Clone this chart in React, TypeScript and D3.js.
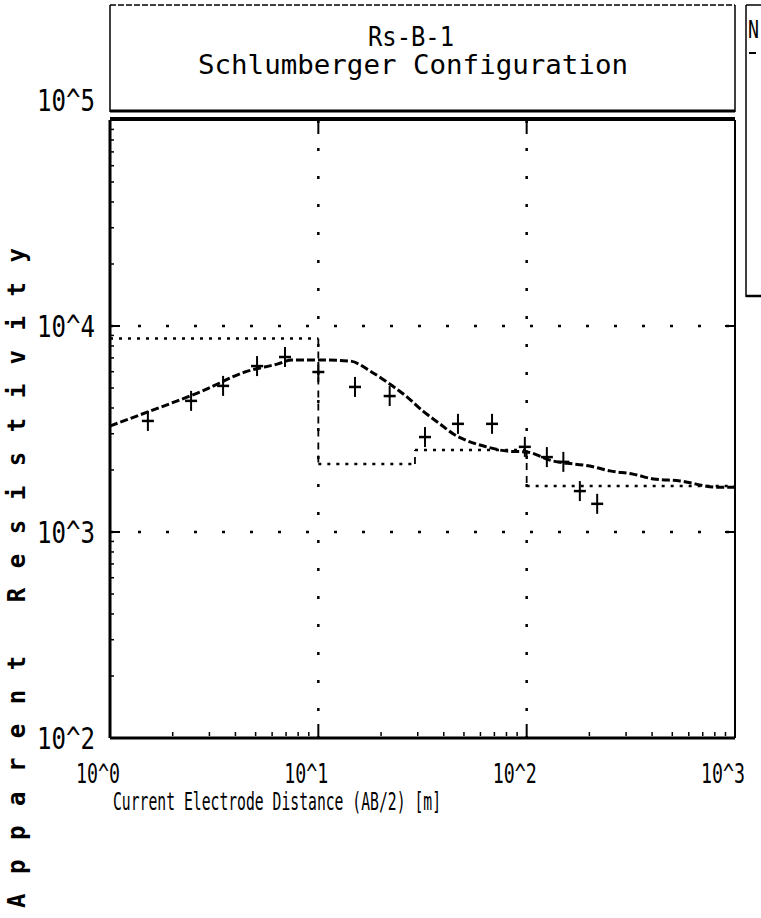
import React from "react";
import * as d3 from "d3";

// Measured apparent resistivity (AB/2 [m], rho_a [ohm-m])
const obsAB = [1.52, 2.45, 3.49, 5.08, 6.92, 10.0, 15.0, 22.0, 32.5, 46.8, 68.2, 98, 125, 150, 180, 218];
const obsRho = [3460, 4330, 5120, 6390, 7070, 5980, 5060, 4570, 2890, 3350, 3350, 2590, 2310, 2190, 1580, 1370];

// Calculated curve
const calcAB = [1, 1.39, 1.98, 2.77, 4.44, 6.4, 7.46, 10.2, 14.2, 17.7, 21.3, 26.7, 31.8, 38.5, 44.5, 51.9, 64.3, 80.6, 100, 134, 167, 201, 251, 324, 406, 545, 813, 1000];
const calcRho = [3270, 3700, 4230, 4830, 5980, 6550, 6840, 6840, 6760, 6050, 5350, 4520, 3860, 3340, 2990, 2770, 2590, 2470, 2445, 2210, 2140, 2090, 1980, 1910, 1810, 1770, 1650, 1650];

// Layered model
const layerRho = [8700, 2140, 2500, 1670];
const layerTop = [1, 10, 29.1, 100];
const layerBottom = [10, 29.1, 100, 1000];

const xTicks = [1, 10, 100, 1000];
const xTickLabels = ["10^0", "10^1", "10^2", "10^3"];
const yTicks = [100, 1000, 10000, 100000];
const yTickLabels = ["10^2", "10^3", "10^4", "10^5"];

const titleLines = ["Rs-B-1", "Schlumberger Configuration"];
const xTitle = "Current Electrode Distance (AB/2) [m]";
const yTitle = "Apparent Resistivity";

const FONT = "'DejaVu Sans Mono', 'Liberation Mono', monospace";

export default function App() {
  const L = 110, R = 735, T = 120, B = 738;
  const x = d3.scaleLog().domain([1, 1000]).range([L, R]);
  const y = d3.scaleLog().domain([100, 100000]).range([B, T]);

  const calcLine = d3
    .line<number>()
    .x((_, i) => x(calcAB[i]))
    .y((d) => y(d))
    .curve(d3.curveMonotoneX)(calcRho) as string;

  let stepH = "";
  let stepV = "";
  layerRho.forEach((r, i) => {
    stepH += `M${x(layerTop[i])},${y(r)}H${x(layerBottom[i])}`;
    if (i > 0) stepV += `M${x(layerTop[i])},${y(layerRho[i - 1])}V${y(r)}`;
  });

  const minor: number[] = [];
  for (let d = 1; d < 1000; d *= 10) for (let k = 2; k <= 9; k++) minor.push(d * k);
  const minorY: number[] = [];
  for (let d = 100; d < 100000; d *= 10) for (let k = 2; k <= 9; k++) minorY.push(d * k);

  const yMax = yTicks[yTicks.length - 1];

  return (
    <svg
      width={761}
      height={918}
      style={{ position: "absolute", left: 0, top: 0, background: "#fff" }}
    >
      <rect x={0} y={0} width={761} height={918} fill="#fff" />
      {/* title box */}
      <line x1={L} x2={R} y1={5} y2={5} stroke="#000" strokeWidth={1.5} strokeDasharray="6 2" />
      <line x1={L} x2={L} y1={5} y2={112} stroke="#000" strokeWidth={1.5} />
      <line x1={R} x2={R} y1={5} y2={112} stroke="#000" strokeWidth={1.5} />
      <line x1={L} x2={R} y1={111} y2={111} stroke="#000" strokeWidth={3} />
      <text x={411} y={46} textAnchor="middle" fontFamily={FONT} fontSize={26} textLength={86} lengthAdjust="spacingAndGlyphs">
        {titleLines[0]}
      </text>
      <text x={413} y={74} textAnchor="middle" fontFamily={FONT} fontSize={26} textLength={430} lengthAdjust="spacingAndGlyphs">
        {titleLines[1]}
      </text>

      {/* legend box (cut off) */}
      <line x1={746} x2={761} y1={5} y2={5} stroke="#000" strokeWidth={1.5} />
      <line x1={746} x2={746} y1={5} y2={297} stroke="#000" strokeWidth={1.5} />
      <line x1={746} x2={761} y1={296} y2={296} stroke="#000" strokeWidth={2.5} />
      <text x={748} y={38} fontFamily={FONT} fontSize={24} textLength={11} lengthAdjust="spacingAndGlyphs">N</text>
      <line x1={749} x2={756} y1={53} y2={53} stroke="#000" strokeWidth={2} />

      {/* plot frame */}
      <line x1={L} x2={R} y1={T - 1} y2={T - 1} stroke="#000" strokeWidth={4} />
      <line x1={L} x2={R} y1={B} y2={B} stroke="#000" strokeWidth={3} />
      <line x1={L} x2={L} y1={T} y2={B} stroke="#000" strokeWidth={3} />
      <line x1={R} x2={R} y1={T} y2={B} stroke="#000" strokeWidth={2} />

      {/* grid */}
      {xTicks.slice(1, -1).map((v) => (
        <line key={"gx" + v} x1={x(v)} x2={x(v)} y1={T} y2={B} stroke="#000" strokeWidth={2.5} strokeDasharray="3 25" />
      ))}
      {yTicks.slice(1, -1).map((v) => (
        <line key={"gy" + v} x1={L} x2={R} y1={y(v)} y2={y(v)} stroke="#000" strokeWidth={2.5} strokeDasharray="3 25" />
      ))}
      {/* major ticks */}
      {xTicks.slice(1, -1).map((v) => (
        <g key={"tx" + v}>
          <line x1={x(v)} x2={x(v)} y1={T} y2={T + 14} stroke="#000" strokeWidth={2} />
          <line x1={x(v)} x2={x(v)} y1={B} y2={B - 14} stroke="#000" strokeWidth={2} />
        </g>
      ))}
      {yTicks.slice(1, -1).map((v) => (
        <g key={"ty" + v}>
          <line x1={L} x2={L + 10} y1={y(v)} y2={y(v)} stroke="#000" strokeWidth={2} />
          <line x1={R} x2={R - 10} y1={y(v)} y2={y(v)} stroke="#000" strokeWidth={2} />
        </g>
      ))}
      {/* minor ticks */}
      {minor.map((v) => (
        <line key={"mx" + v} x1={x(v)} x2={x(v)} y1={B - 2} y2={B - 6} stroke="#000" strokeWidth={1.5} />
      ))}
      {minorY.map((v) => (
        <line key={"my" + v} x1={L} x2={L + 4} y1={y(v)} y2={y(v)} stroke="#000" strokeWidth={1.5} />
      ))}

      {/* tick labels */}
      {yTicks.map((v, i) => (
        <text
          key={"yl" + v}
          x={95}
          y={(v === yMax ? y(v) - 20 : y(v)) + 11}
          textAnchor="end"
          fontFamily={FONT}
          fontSize={30}
          textLength={58}
          lengthAdjust="spacingAndGlyphs"
        >
          {yTickLabels[i]}
        </text>
      ))}
      {xTicks.map((v, i) => (
        <text key={"xl" + v} x={x(v) + 10} y={783} textAnchor="end" fontFamily={FONT} fontSize={27} textLength={44} lengthAdjust="spacingAndGlyphs">
          {xTickLabels[i]}
        </text>
      ))}
      <text x={113} y={810} fontFamily={FONT} fontSize={25} textLength={328} lengthAdjust="spacingAndGlyphs">
        {xTitle}
      </text>
      <text
        transform={`translate(25,908) rotate(-90)`}
        fontFamily={FONT}
        fontSize={24}
        fontWeight="bold"
        textLength={660}
        lengthAdjust="spacing"
      >
        {yTitle}
      </text>

      {/* layered model */}
      <path d={stepH} fill="none" stroke="#000" strokeWidth={2.5} strokeDasharray="3 6" />
      <path d={stepV} fill="none" stroke="#000" strokeWidth={1.8} strokeDasharray="7 6" />

      {/* calculated curve */}
      <path d={calcLine} fill="none" stroke="#000" strokeWidth={3} strokeDasharray="8 3" />

      {/* observed data */}
      {obsAB.map((a, i) => (
        <g key={"o" + i}>
          <line x1={x(a)} x2={x(a)} y1={y(obsRho[i]) - 10} y2={y(obsRho[i]) + 10} stroke="#000" strokeWidth={2} />
          <line x1={x(a) - 6} x2={x(a) + 6} y1={y(obsRho[i])} y2={y(obsRho[i])} stroke="#000" strokeWidth={2.5} />
        </g>
      ))}
    </svg>
  );
}
